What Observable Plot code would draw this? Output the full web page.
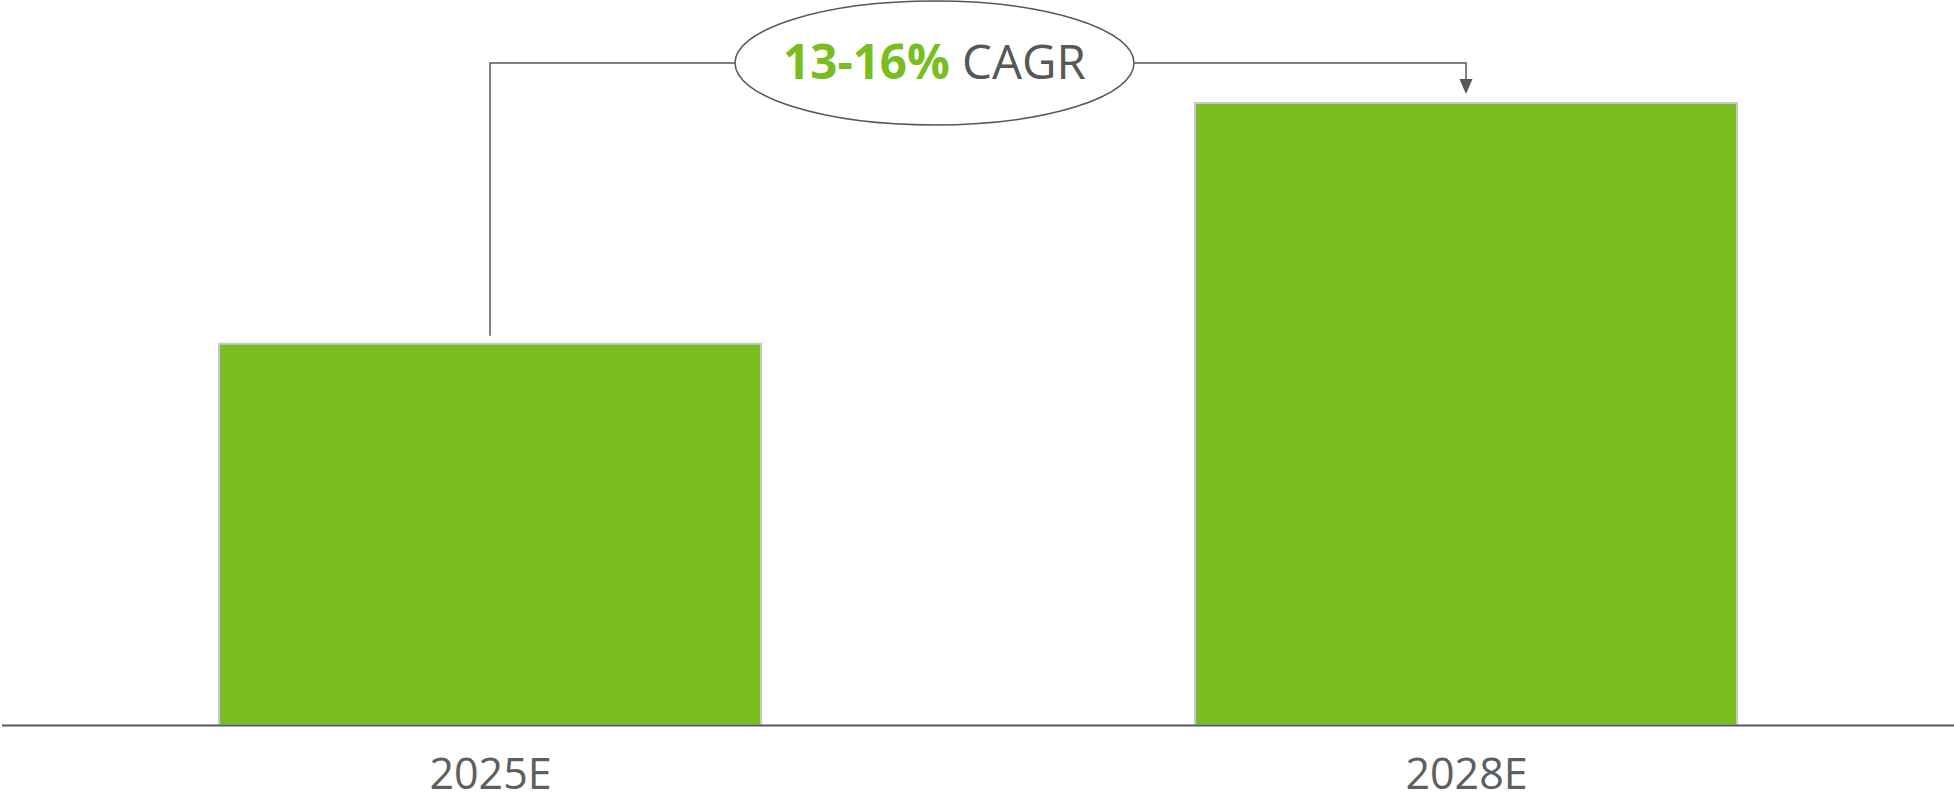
<!DOCTYPE html>
<html>
<head>
<meta charset="utf-8">
<script src="https://cdn.jsdelivr.net/npm/d3@7"></script>
<script src="https://cdn.jsdelivr.net/npm/@observablehq/plot@0.6"></script>
<style>
  html, body { margin: 0; padding: 0; background: #ffffff; }
  #chart svg { display: block; }
</style>
</head>
<body>
<div id="chart"></div>
<script>
// ---- data ----
const categories = ["2025E", "2028E"];
const values = [61.3, 100];          // relative bar heights
const cagrValue = "13-16%";
const cagrText = "CAGR";

const data = categories.map((c, i) => ({year: c, value: values[i]}));

const GREEN = "#78be20";
const DARK = "#54585a";
const LABEL = "#5b5f62";
const FONT = "'Open Sans', 'Noto Sans', sans-serif";

// annotation: connector from first bar to second bar through an ellipse label
function cagrAnnotation(index, scales) {
  const x = scales.x, y = scales.y;
  const bw = x.bandwidth ? x.bandwidth() : 0;
  const x0 = x(categories[0]) + bw / 2;
  const x1 = x(categories[1]) + bw / 2;
  const y0 = y(values[0]) - 8;
  const y1 = y(values[1]) - 9;
  const lineY = 63;
  const cx = 934.5, rx = 199.5, ry = 62;
  const g = d3.create("svg:g");
  g.append("path")
    .attr("fill", "none").attr("stroke", DARK).attr("stroke-width", 1.5)
    .attr("d", `M${x0},${y0}V${lineY}H${cx - rx}`);
  g.append("path")
    .attr("fill", "none").attr("stroke", DARK).attr("stroke-width", 1.5)
    .attr("d", `M${cx + rx},${lineY}H${x1}V${y1 - 15}`);
  g.append("path")
    .attr("fill", DARK)
    .attr("d", `M${x1 - 6.5},${y1 - 15}L${x1 + 6.5},${y1 - 15}L${x1},${y1}Z`);
  g.append("ellipse")
    .attr("cx", cx).attr("cy", lineY).attr("rx", rx).attr("ry", ry)
    .attr("fill", "#ffffff").attr("stroke", DARK).attr("stroke-width", 1.5);
  const t = g.append("text")
    .attr("x", cx).attr("y", 79)
    .attr("text-anchor", "middle")
    .attr("font-family", FONT)
    .attr("font-size", 47.5);
  t.append("tspan").attr("fill", GREEN).attr("font-weight", 700).text(cagrValue);
  t.append("tspan").attr("fill", DARK).attr("font-weight", 400).text(" " + cagrText);
  return g.node();
}

const chart = Plot.plot({
  width: 1954,
  height: 795,
  marginTop: 0,
  marginLeft: 2,
  marginRight: 0,
  marginBottom: 70,
  style: {background: "#ffffff", fontFamily: FONT},
  x: {
    type: "band",
    domain: categories,
    range: [219, 1737],
    paddingInner: 0.4447,
    paddingOuter: 0,
    label: null
  },
  y: {domain: [0, 100], range: [725, 103], axis: null},
  marks: [
    Plot.barY(data, {x: "year", y: "value", fill: GREEN, stroke: "#c8c9cb", strokeWidth: 2}),
    Plot.ruleY([0], {stroke: DARK, strokeWidth: 2}),
    Plot.axisX({tickSize: 0, tickPadding: 33, fontSize: 43, color: LABEL, label: null}),
    cagrAnnotation
  ]
});

document.getElementById("chart").appendChild(chart);
</script>
</body>
</html>
